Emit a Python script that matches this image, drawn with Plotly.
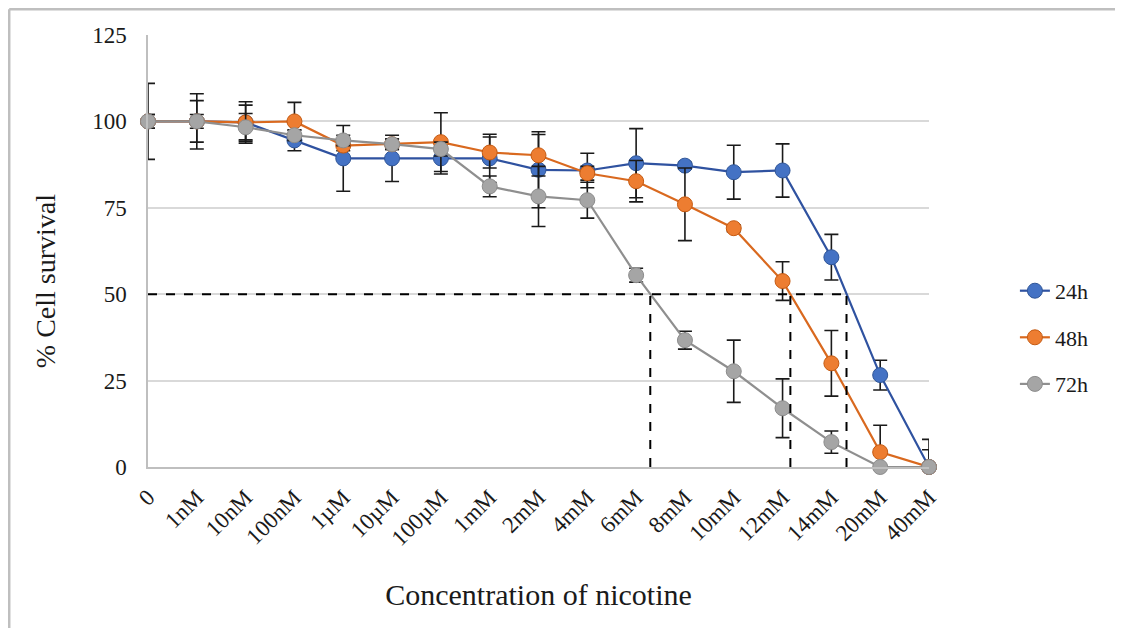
import plotly.graph_objects as go

categories = ["0", "1nM", "10nM", "100nM", "1µM", "10µM", "100µM", "1mM", "2mM",
              "4mM", "6mM", "8mM", "10mM", "12mM", "14mM", "20mM", "40mM"]

survival_24h = [100, 100, 99.7, 94.5, 89.3, 89.3, 89.3, 89.3, 86.0, 85.8, 87.9, 87.2, 85.3, 85.8, 60.7, 26.6, 0]
error_24h    = [11, 8, 5, 3, 9.5, 6.7, 4.5, 7, 11, 5, 10, 1, 7.8, 7.7, 6.6, 4.3, 8]

survival_48h = [100, 100, 99.7, 100, 93, 93.4, 94, 91, 90.2, 85, 82.7, 76, 69.1, 53.8, 30, 4.3, 0]
error_48h    = [2, 6, 6, 5.5, 1.5, 1.5, 8.5, 4.5, 6, 2, 6, 10.5, 1, 5.6, 9.5, 7.8, 5]

survival_72h = [100, 100, 98.3, 96, 94.5, 93.4, 92, 81.2, 78.3, 77.2, 55.5, 36.7, 27.7, 17, 7.2, 0, 0]
error_72h    = [2, 2, 4, 1.5, 1.5, 1.5, 2, 3, 8.7, 5.2, 2, 2.6, 9, 8.5, 3.2, 0, 0]

series_names = ["24h", "48h", "72h"]
ic50_positions = [10.29, 13.16, 14.31]   # category-axis positions where curves cross 50 %
ic50_level = 50

fill_colors = ["#4472C4", "#ED7D31", "#A5A5A5"]
line_colors = ["#2F52A0", "#D9691F", "#8F8F8F"]
edge_colors = ["#2F5597", "#C55A11", "#8C8C8C"]

serif = "Liberation Serif, Times New Roman, serif"
x_idx = list(range(len(categories)))

fig = go.Figure()

for i, (name, ys, errs) in enumerate(zip(series_names,
                                         [survival_24h, survival_48h, survival_72h],
                                         [error_24h, error_48h, error_72h])):
    fig.add_trace(go.Scatter(
        x=x_idx, y=ys, name=name, mode="lines+markers",
        line=dict(color=line_colors[i], width=2.2),
        marker=dict(size=15, color=fill_colors[i], line=dict(color=edge_colors[i], width=1)),
        error_y=dict(type="data", array=errs, visible=True, color="#1a1a1a",
                     thickness=1.6, width=7),
        cliponaxis=False, legendgroup=name,
    ))

# dashed IC50 guide lines
fig.add_shape(type="line", xref="x", yref="y", x0=0, x1=max(ic50_positions),
              y0=ic50_level, y1=ic50_level, line=dict(color="black", width=2, dash="dash"))
for xp in ic50_positions:
    fig.add_shape(type="line", xref="x", yref="y", x0=xp, x1=xp, y0=0, y1=ic50_level,
                  line=dict(color="black", width=2, dash="dash"))

# chart-area border (left and top)
bx, by = -0.1777, 1.0597
fig.add_shape(type="line", xref="paper", yref="paper", x0=bx, x1=bx, y0=-0.40, y1=by,
              line=dict(color="#BFBFBF", width=2.5), layer="above")
fig.add_shape(type="line", xref="paper", yref="paper", x0=bx, x1=1.27, y0=by, y1=by,
              line=dict(color="#BFBFBF", width=2.5), layer="above")

# y-axis title (placed slightly below the axis centre, as in the original)
fig.add_annotation(text="% Cell survival", xref="paper", yref="paper", x=-0.132, y=0.43,
                   xanchor="center", yanchor="middle", textangle=-90, showarrow=False,
                   font=dict(family=serif, size=28, color="#1a1a1a"))

fig.update_layout(
    width=1123, height=628,
    margin=dict(l=140, r=202, t=27, b=169),
    paper_bgcolor="white", plot_bgcolor="white",
    font=dict(family=serif, color="#1a1a1a"),
    showlegend=True,
    legend=dict(x=1.11, y=0.30, xanchor="left", yanchor="middle",
                font=dict(family=serif, size=22), tracegroupgap=15,
                bgcolor="rgba(0,0,0,0)"),
    xaxis=dict(
        range=[0, len(categories) - 1], tickmode="array", tickvals=x_idx, ticktext=categories,
        tickangle=-45, tickfont=dict(family=serif, size=23),
        showgrid=False, zeroline=False, showline=True, linecolor="#BFBFBF", linewidth=1.5,
        ticks="", ticklabelstandoff=6,
        title=dict(text="Concentration of nicotine", font=dict(family=serif, size=30), standoff=34),
    ),
    yaxis=dict(
        range=[0, 125], tickmode="array", tickvals=[0, 25, 50, 75, 100, 125],
        tickfont=dict(family=serif, size=23),
        showgrid=True, gridcolor="#D9D9D9", gridwidth=1.5, zeroline=False,
        showline=True, linecolor="#BFBFBF", linewidth=1.5, ticks="", ticklabelstandoff=15,
    ),
)

fig.write_html("out.html")
